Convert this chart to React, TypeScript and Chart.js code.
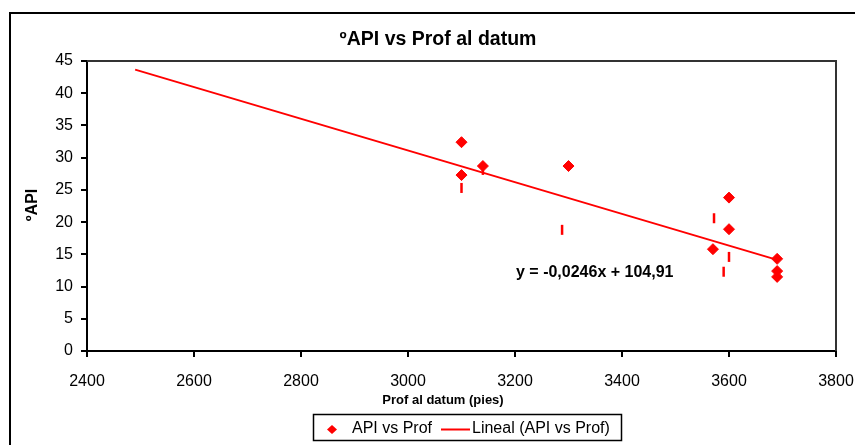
import React, { useEffect, useRef } from "react";
import { Chart, registerables } from "chart.js";

Chart.register(...registerables);

const apiX = [3100, 3100, 3140, 3300, 3600, 3600, 3570, 3690, 3690, 3690];
const apiY = [32.4, 27.3, 28.7, 28.7, 23.8, 18.9, 15.8, 14.3, 12.4, 11.5];
const dashX = [3100, 3140, 3288, 3572, 3600, 3590];
const dashY = [25.3, 28.1, 18.8, 20.6, 14.6, 12.3];
const trendSlope = -0.0246;
const trendIntercept = 104.91;
const trendX = [2490, 3690];
const chartTitle = "ºAPI vs Prof al datum";
const xTitle = "Prof al datum (pies)";
const yTitle = "ºAPI";
const equationText = "y = -0,0246x + 104,91";
const legendLabels = ["API vs Prof", "Lineal (API vs Prof)"];

const RED = "#FF0000";
const FONT = "Arial, 'Liberation Sans', sans-serif";

const decorPlugin = {
  id: "decor",
  afterDraw(chart: any) {
    const ctx = chart.ctx;
    const ca = chart.chartArea;
    ctx.save();
    // outer frame
    ctx.strokeStyle = "#000";
    ctx.lineWidth = 2;
    ctx.beginPath();
    ctx.moveTo(10, 445);
    ctx.lineTo(10, 13);
    ctx.lineTo(855, 13);
    ctx.stroke();
    // plot frame top/right
    ctx.strokeStyle = "#333";
    ctx.lineWidth = 2;
    ctx.beginPath();
    ctx.moveTo(ca.left, ca.top);
    ctx.lineTo(ca.right, ca.top);
    ctx.lineTo(ca.right, ca.bottom);
    ctx.stroke();
    // title
    ctx.fillStyle = "#000";
    ctx.textAlign = "center";
    ctx.textBaseline = "middle";
    ctx.font = `bold 19.5px ${FONT}`;
    ctx.fillText(chartTitle, 438, 40);
    // x title
    ctx.font = `bold 13px ${FONT}`;
    ctx.fillText(xTitle, 443, 400);
    // y title
    ctx.save();
    ctx.translate(33, 205);
    ctx.rotate(-Math.PI / 2);
    ctx.font = `bold 16px ${FONT}`;
    ctx.fillText(yTitle, 0, 0);
    ctx.restore();
    // equation
    ctx.font = `bold 16px ${FONT}`;
    ctx.textAlign = "left";
    ctx.fillText(equationText, 516, 273);
    // legend box
    ctx.strokeStyle = "#000";
    ctx.lineWidth = 1.5;
    ctx.strokeRect(313.5, 414.5, 308, 26);
    // legend diamond
    ctx.fillStyle = RED;
    ctx.beginPath();
    ctx.moveTo(332, 425);
    ctx.lineTo(337, 429.5);
    ctx.lineTo(332, 434);
    ctx.lineTo(327, 429.5);
    ctx.closePath();
    ctx.fill();
    ctx.fillStyle = "#000";
    ctx.font = `16px ${FONT}`;
    ctx.fillText(legendLabels[0], 352, 429);
    // legend line
    ctx.strokeStyle = RED;
    ctx.lineWidth = 2;
    ctx.beginPath();
    ctx.moveTo(441, 429.5);
    ctx.lineTo(470, 429.5);
    ctx.stroke();
    ctx.fillText(legendLabels[1], 472, 429);
    ctx.restore();
  },
};

export default function App() {
  const ref = useRef<HTMLCanvasElement>(null);
  useEffect(() => {
    if (!ref.current) return;
    const pts = apiX.map((x, i) => ({ x, y: apiY[i] }));
    const dashes = dashX.map((x, i) => ({ x, y: dashY[i] }));
    const trend = trendX.map((x) => ({ x, y: trendSlope * x + trendIntercept }));
    const chart = new Chart(ref.current, {
      type: "scatter",
      data: {
        datasets: [
          {
            label: "trend",
            data: trend,
            showLine: true,
            borderColor: RED,
            borderWidth: 2,
            pointRadius: 0,
            order: 3,
          },
          {
            label: "dashes",
            data: dashes,
            pointStyle: "line",
            rotation: 90,
            pointRadius: 5,
            borderColor: RED,
            backgroundColor: RED,
            borderWidth: 2.5,
            order: 2,
          },
          {
            label: "API vs Prof",
            data: pts,
            pointStyle: "rectRot",
            pointRadius: 5.5,
            borderColor: RED,
            backgroundColor: RED,
            borderWidth: 1,
            order: 1,
          },
        ],
      },
      options: {
        animation: false,
        responsive: false,
        layout: { padding: { left: 20, top: 61, right: 19, bottom: 54 } },
        plugins: {
          legend: { display: false },
          title: { display: false },
          tooltip: { enabled: false },
        },
        scales: {
          x: {
            type: "linear",
            min: 2400,
            max: 3800,
            ticks: {
              stepSize: 200,
              color: "#000",
              font: { family: FONT, size: 16 },
              padding: 15,
              maxRotation: 0,
              callback: (v: any) => String(v),
            },
            grid: {
              drawOnChartArea: false,
              tickLength: 6,
              color: "#000",
              lineWidth: 2,
            },
            border: { color: "#000", width: 2 },
            afterFit(scale: any) {
              scale.height = 40;
              scale.paddingLeft = 0;
              scale.paddingRight = 0;
            },
          },
          y: {
            type: "linear",
            min: 0,
            max: 45,
            ticks: {
              stepSize: 5,
              color: "#000",
              font: { family: FONT, size: 16 },
              padding: 8,
              callback: (v: any) => String(v),
            },
            grid: {
              drawOnChartArea: false,
              tickLength: 6,
              color: "#000",
              lineWidth: 2,
            },
            border: { color: "#000", width: 2 },
            afterFit(scale: any) {
              scale.width = 67;
              scale.paddingTop = 0;
              scale.paddingBottom = 0;
            },
          },
        },
      },
      plugins: [decorPlugin],
    });
    return () => chart.destroy();
  }, []);
  return (
    <div style={{ position: "fixed", left: 0, top: 0, width: 855, height: 445, background: "#fff" }}>
      <canvas ref={ref} width={855} height={445} style={{ display: "block" }} />
    </div>
  );
}
